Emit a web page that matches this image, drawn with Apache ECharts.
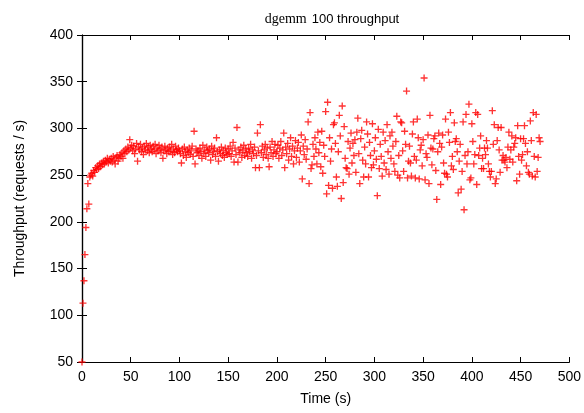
<!DOCTYPE html>
<html>
<head>
<meta charset="utf-8">
<script src="https://cdn.jsdelivr.net/npm/echarts@6/dist/echarts.min.js"></script>
<style>
  html, body { margin: 0; padding: 0; background: #fff; }
  #chart { width: 584px; height: 413px; }
</style>
</head>
<body>
<div id="chart"></div>
<script>
// throughput samples, one per second, split in segments (start time + values)
const rampStart = 0
const rampValues = [
  50, 113, 137, 165, 194, 214, 241, 219, 248, 250,
  252, 249, 255, 253, 258, 256, 260, 257, 262, 259,
  263, 261, 265, 262, 266, 264, 268, 263, 267, 265,
  268, 264, 270, 266, 262, 269, 271, 265, 268, 272,
  270, 274, 268, 276, 273, 278, 275, 280, 277, 288
]
const steadyStart = 50
const steadyValues = [
  279, 282, 276, 281, 273, 278, 284, 265, 280, 277,
  283, 275, 279, 272, 281, 277, 284, 276, 280, 274,
  282, 278, 275, 281, 277, 283, 273, 279, 276, 282,
  278, 274, 280, 268, 276, 281, 277, 273, 279, 275,
  280, 276, 283, 272, 278, 274, 281, 277, 275, 279,
  276, 273, 263, 278, 271, 280, 275, 269, 277, 274,
  279, 272, 276, 281, 270, 297, 262, 278, 274, 276,
  271, 279, 275, 268, 282, 273, 277, 270, 280, 276,
  274, 278, 266, 281, 272, 276, 279, 270, 290, 275,
  265, 277, 273, 280, 271, 276, 269, 279, 274, 272,
  278, 273, 281, 270, 276, 285, 264, 279, 272, 301,
  264, 277, 274, 280, 269, 276, 282, 271, 278, 274,
  270, 279, 275, 283, 268, 277, 273, 280, 258, 271,
  295, 276, 258, 304, 274, 281, 269, 277, 283, 272,
  279, 268, 259, 280, 274, 286, 270, 277, 283, 273
]
const midStart = 200
const midValues = [
  275, 282, 268, 279, 286, 271, 277, 295, 258, 280,
  273, 284, 266, 278, 290, 270, 281, 262, 276, 287,
  269, 279, 285, 264, 276, 293, 246, 281, 272, 288,
  267, 278, 307, 241, 317, 257, 261, 283, 270, 290,
  278, 262, 296, 274, 285, 259, 297, 252, 282, 270,
  318, 230, 328, 239, 290, 265, 278, 236, 304, 306,
  284, 248, 238, 275, 314, 292, 225, 324, 242, 302,
  268, 258, 257, 286, 251, 279, 295, 263, 284, 271,
  288, 253, 296, 311, 273, 241, 289, 298, 266, 248,
  280, 262, 307, 294, 248, 285, 271, 258, 305, 261
]
const lateStart = 300
const lateValues = [
  276, 290, 267, 228, 299, 257, 283, 270, 249, 296,
  263, 287, 256, 304, 275, 251, 292, 268, 296, 281,
  262, 254, 286, 313, 250, 271, 247, 307, 306, 276,
  254, 297, 283, 340, 247, 265, 281, 263, 249, 294,
  307, 270, 247, 266, 310, 290, 246, 277, 282, 260,
  288, 354, 245, 273, 269, 293, 241, 314, 279, 261,
  278, 289, 292, 255, 224, 275, 295, 284, 240, 280,
  293, 263, 252, 310, 251, 248, 296, 285, 317, 260,
  270, 256, 306, 286, 289, 275, 231, 265, 283, 235,
  254, 307, 213, 271, 315, 262, 275, 326, 245, 247,
  305, 286, 262, 272, 317, 240, 315, 271, 279, 292,
  257, 268, 257, 279, 272, 287, 279, 262, 254, 248,
  254, 319, 283, 304, 241, 246, 287, 301, 277, 253,
  301, 266, 271, 266, 264, 269, 258, 280, 296, 267,
  277, 292, 264, 280, 284, 290, 244, 303, 270, 251,
  289, 266, 272, 289, 303, 284, 260, 275, 253, 251,
  308, 287, 249, 317, 270, 248, 315, 254, 269, 290,
  286
]

const segments = [
  [rampStart, rampValues],
  [steadyStart, steadyValues],
  [midStart, midValues],
  [lateStart, lateValues]
]
const points = []
segments.forEach(([start, vals]) => {
  vals.forEach((v, i) => points.push([start + i, v]))
})

// gnuplot style "+" marker
const plusPath = 'path://M-0.19,-1H0.19V-0.19H1V0.19H0.19V1H-0.19V0.19H-1V-0.19H-0.19Z'

const sans = 'Liberation Sans'
const axisCommon = {
  type: 'value',
  axisLine: { show: true, lineStyle: { color: '#000', width: 1.2 } },
  axisTick: { show: true, inside: true, length: 5, lineStyle: { color: '#000' } },
  splitLine: { show: false }
}

const chart = echarts.init(document.getElementById('chart'), null, { renderer: 'canvas' })
chart.setOption({
  animation: false,
  backgroundColor: '#fff',
  title: {
    text: '{a|dgemm} {b|100 throughput}',
    left: 327,
    textAlign: 'center',
    top: 5,
    textStyle: {
      fontWeight: 'normal',
      rich: {
        a: { fontFamily: 'Liberation Serif', fontSize: 14, fontWeight: 'normal', color: '#000' },
        b: { fontFamily: sans, fontSize: 13, fontWeight: 'normal', color: '#000' }
      }
    }
  },
  grid: { left: 82, right: 12, top: 35, bottom: 51 },
  xAxis: [
    Object.assign({}, axisCommon, {
      position: 'bottom',
      min: 0, max: 500, interval: 50,
      name: 'Time (s)',
      nameLocation: 'middle',
      nameGap: 30,
      nameTextStyle: { fontFamily: sans, fontSize: 14, color: '#000' },
      axisLabel: { fontFamily: sans, fontSize: 14, color: '#000', margin: 8 }
    }),
    Object.assign({}, axisCommon, {
      position: 'top',
      min: 0, max: 500, interval: 50,
      axisLabel: { show: false }
    })
  ],
  yAxis: [
    Object.assign({}, axisCommon, {
      position: 'left',
      min: 50, max: 400, interval: 50,
      name: 'Throughput (requests / s)',
      nameLocation: 'middle',
      nameGap: 55,
      nameTextStyle: { fontFamily: sans, fontSize: 14, color: '#000' },
      axisLabel: { fontFamily: sans, fontSize: 14, color: '#000', margin: 9 }
    }),
    Object.assign({}, axisCommon, {
      position: 'right',
      min: 50, max: 400, interval: 50,
      axisLabel: { show: false }
    })
  ],
  series: [
    {
      type: 'scatter',
      xAxisIndex: 0,
      yAxisIndex: 0,
      symbol: plusPath,
      symbolSize: 7,
      itemStyle: { color: '#ff0000' },
      data: points
    }
  ]
})
</script>
</body>
</html>
